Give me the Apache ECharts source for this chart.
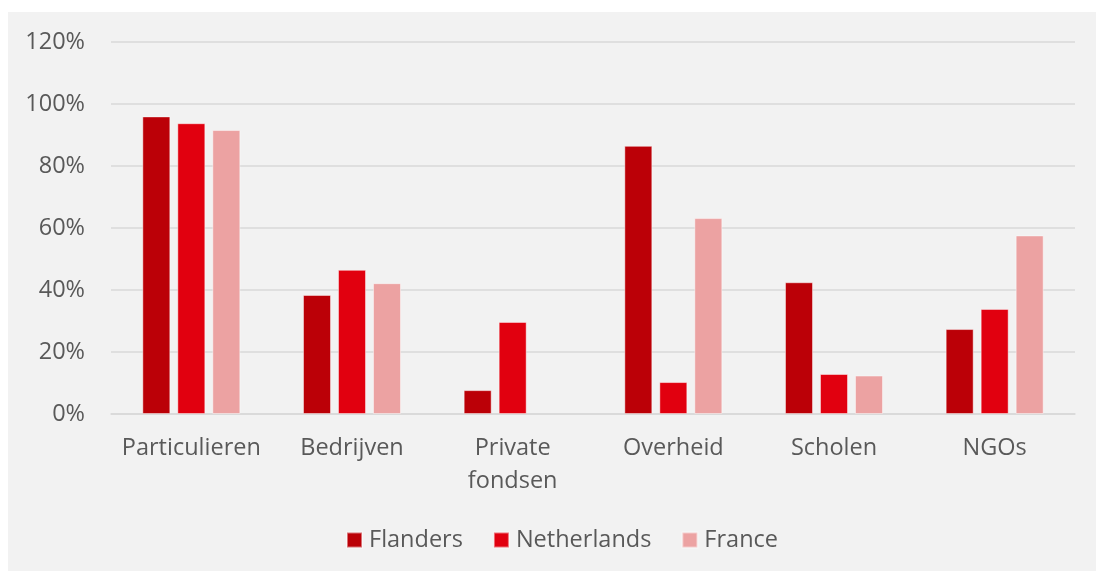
<!DOCTYPE html>
<html>
<head>
<meta charset="utf-8">
<script src="https://cdn.jsdelivr.net/npm/echarts@6/dist/echarts.min.js"></script>
<style>
  html, body { margin: 0; padding: 0; background: #fff; }
  #chart { position: absolute; left: 8px; top: 12px; width: 1088px; height: 559px; }
</style>
</head>
<body>
<div id="chart"></div>
<script>
// categories and series (share in %)
const categories = ["Particulieren", "Bedrijven", "Private\nfondsen", "Overheid", "Scholen", "NGOs"];
const flanders = [96, 38.4, 7.7, 86.5, 42.5, 27.4];
const netherlands = [93.8, 46.5, 29.7, 10.3, 12.9, 33.9];
const france = [91.6, 42.2, 0, 63.2, 12.4, 57.6];

const textColor = "#595959";
const gridColor = "#d9d9d9";

const chart = echarts.init(document.getElementById("chart"));

function barSeries(name, data, color) {
  return {
    name: name,
    type: "bar",
    barWidth: 28,
    barGap: "25%",
    itemStyle: {
      color: color,
      borderColor: "rgba(255,255,255,0.45)",
      borderWidth: 1
    },
    // zero bars are not drawn at all (no border sliver)
    data: data.map(v => (v === 0 ? null : v))
  };
}

chart.setOption({
  backgroundColor: "#f2f2f2",
  animation: false,
  textStyle: { fontFamily: "Open Sans" },
  grid: {
    left: 103,
    right: 21,
    top: 30,
    bottom: 157
  },
  legend: {
    left: 333,
    top: 511,
    itemWidth: 15,
    itemHeight: 15,
    itemGap: 30,
    icon: "rect",
    textStyle: { color: textColor, fontSize: 23.5, fontFamily: "Open Sans", padding: [0, 0, 0, 2] },
    data: ["Flanders", "Netherlands", "France"]
  },
  xAxis: {
    type: "category",
    data: categories,
    axisLine: { lineStyle: { color: gridColor, width: 1.5 } },
    axisTick: { show: false },
    axisLabel: {
      color: textColor,
      fontSize: 23.5,
      lineHeight: 33,
      margin: 18,
      interval: 0
    }
  },
  yAxis: {
    type: "value",
    min: 0,
    max: 120,
    interval: 20,
    axisLine: { show: false },
    axisTick: { show: false },
    splitLine: { lineStyle: { color: gridColor, width: 1.5 } },
    axisLabel: {
      color: textColor,
      fontSize: 23.5,
      margin: 26,
      formatter: "{value}%"
    }
  },
  series: [
    barSeries("Flanders", flanders, "#bb0007"),
    barSeries("Netherlands", netherlands, "#e1000f"),
    barSeries("France", france, "#eca2a2")
  ]
});
</script>
</body>
</html>
